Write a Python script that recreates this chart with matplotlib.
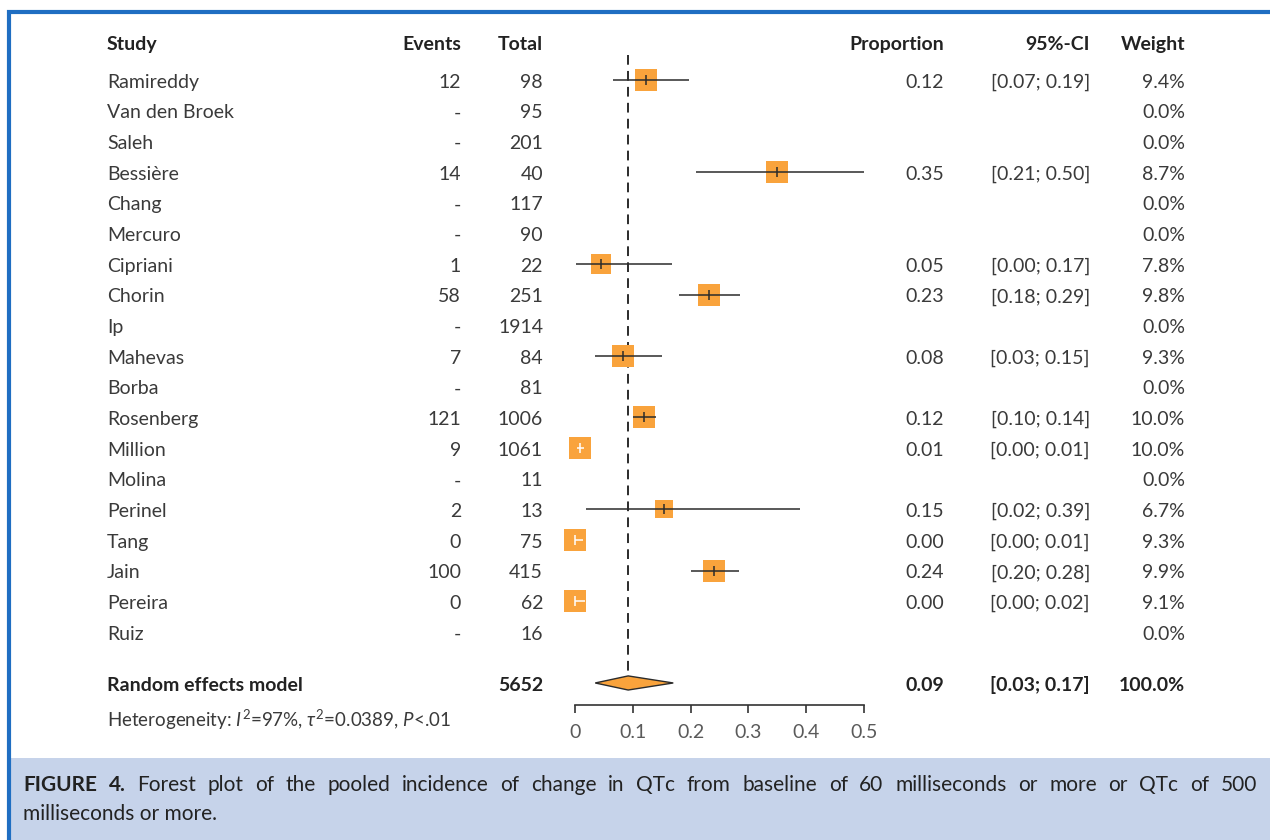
import matplotlib
matplotlib.use("agg")
import matplotlib.pyplot as plt
from matplotlib.transforms import blended_transform_factory
from matplotlib.patches import Rectangle, Polygon

plt.rcParams['font.family'] = ['Lato', 'DejaVu Sans']
plt.rcParams['mathtext.fontset'] = 'custom'
plt.rcParams['mathtext.rm'] = 'Lato'
plt.rcParams['mathtext.it'] = 'Lato:italic'

# ---- data ----
studies = ["Ramireddy", "Van den Broek", "Saleh", "Bessière", "Chang", "Mercuro",
           "Cipriani", "Chorin", "Ip", "Mahevas", "Borba", "Rosenberg", "Million",
           "Molina", "Perinel", "Tang", "Jain", "Pereira", "Ruiz"]
events = ["12", "-", "-", "14", "-", "-", "1", "58", "-", "7", "-", "121", "9",
          "-", "2", "0", "100", "0", "-"]
totals = ["98", "95", "201", "40", "117", "90", "22", "251", "1914", "84", "81",
          "1006", "1061", "11", "13", "75", "415", "62", "16"]
prop = [0.122, None, None, 0.350, None, None, 0.045, 0.231, None, 0.083, None,
        0.120, 0.0085, None, 0.154, 0.0, 0.241, 0.0, None]
lower = [0.066, None, None, 0.210, None, None, 0.001, 0.180, None, 0.034, None,
         0.101, 0.004, None, 0.019, 0.0, 0.200, 0.0, None]
upper = [0.197, None, None, 0.500, None, None, 0.168, 0.285, None, 0.150, None,
         0.141, 0.016, None, 0.390, 0.014, 0.283, 0.017, None]
prop_txt = ["0.12", "", "", "0.35", "", "", "0.05", "0.23", "", "0.08", "", "0.12",
            "0.01", "", "0.15", "0.00", "0.24", "0.00", ""]
ci_txt = ["[0.07; 0.19]", "", "", "[0.21; 0.50]", "", "", "[0.00; 0.17]",
          "[0.18; 0.29]", "", "[0.03; 0.15]", "", "[0.10; 0.14]", "[0.00; 0.01]",
          "", "[0.02; 0.39]", "[0.00; 0.01]", "[0.20; 0.28]", "[0.00; 0.02]", ""]
weights = [9.4, 0.0, 0.0, 8.7, 0.0, 0.0, 7.8, 9.8, 0.0, 9.3, 0.0, 10.0, 10.0,
           0.0, 6.7, 9.3, 9.9, 9.1, 0.0]

re_est, re_lo, re_hi = 0.092, 0.035, 0.170
re_txt = ["5652", "0.09", "[0.03; 0.17]", "100.0%"]
xticks = [0, 0.1, 0.2, 0.3, 0.4, 0.5]

W, H = 1270, 840
fig = plt.figure(figsize=(W / 100, H / 100), dpi=100)
fig.patch.set_facecolor("white")

# full-figure pixel axes for frame / caption
tax = fig.add_axes([0, 0, 1, 1])
tax.set_xlim(0, W)
tax.set_ylim(H, 0)
tax.axis("off")

# forest panel
x0_px, x1_px = 575, 864
top_px, bot_px = 30, 705
row0_px, row_step = 80, 30.67
ax = fig.add_axes([x0_px / W, 1 - bot_px / H, (x1_px - x0_px) / W, (bot_px - top_px) / H])
ax.set_xlim(0, 0.5)
ax.set_ylim((bot_px - row0_px) / row_step, (top_px - row0_px) / row_step)
ax.patch.set_alpha(0)
for s in ["top", "left", "right"]:
    ax.spines[s].set_visible(False)
ax.spines["bottom"].set_color("#333333")
ax.spines["bottom"].set_linewidth(1.2)
ax.set_yticks([])
ax.set_xticks(xticks)
ax.set_xticklabels(["0", "0.1", "0.2", "0.3", "0.4", "0.5"])
ax.tick_params(axis="x", direction="out", length=6, width=1.2, color="#333333",
               labelsize=14, labelcolor="#5a5a5a", pad=8)

px_per_unit = (x1_px - x0_px) / 0.5
header_row = -1.24
re_row = 19.66
het_row = 20.8
dy = 0.07  # text baseline nudge

orange = "#f9a33c"
dark = "#2b2b2b"

for i in range(len(studies)):
    if prop[i] is None:
        continue
    side = 7.27 * weights[i] ** 0.5  # pixels
    ax.plot([prop[i]], [i], marker="s", markersize=side * 0.72, color=orange,
            markeredgewidth=0, linestyle="none", clip_on=False, zorder=2)
    inside = (upper[i] - lower[i]) * px_per_unit < side
    c = "white" if inside else dark
    ax.plot([lower[i], upper[i]], [i, i], color=c, lw=1.1, clip_on=False, zorder=3,
            solid_capstyle="butt")
    ax.plot([prop[i]], [i], marker="|", markersize=7, markeredgewidth=1.1,
            color=c, linestyle="none", clip_on=False, zorder=4)

# pooled estimate
dh = 0.23
ax.add_patch(Polygon([(re_lo, re_row), (re_est, re_row - dh), (re_hi, re_row),
                      (re_est, re_row + dh)], closed=True, facecolor=orange,
                     edgecolor=dark, lw=1.0, clip_on=False, zorder=3))
ax.plot([re_est, re_est], [-0.82, re_row - dh], color=dark, lw=1.4,
        linestyle=(0, (5, 3.2)), clip_on=False, zorder=1)

# table text
tr = blended_transform_factory(tax.transData, ax.transData)
fs = 14
txtc = "#3a3a3a"
hdr = dict(fontsize=fs, fontweight="bold", color="#222222", va="center", transform=tr)
body = dict(fontsize=fs, color=txtc, va="center", transform=tr)

col_study, col_ev, col_tot, col_prop, col_ci, col_w = 107, 461, 543, 944, 1090, 1185
fig.text(col_study, header_row + dy, "Study", ha="left", **hdr)
fig.text(col_ev, header_row + dy, "Events", ha="right", **hdr)
fig.text(col_tot, header_row + dy, "Total", ha="right", **hdr)
fig.text(col_prop, header_row + dy, "Proportion", ha="right", **hdr)
fig.text(col_ci, header_row + dy, "95%-CI", ha="right", **hdr)
fig.text(col_w, header_row + dy, "Weight", ha="right", **hdr)

for i, name in enumerate(studies):
    y = i + dy
    fig.text(col_study, y, name, ha="left", **body)
    fig.text(col_ev, y, events[i], ha="right", **body)
    fig.text(col_tot, y, totals[i], ha="right", **body)
    fig.text(col_prop, y, prop_txt[i], ha="right", **body)
    fig.text(col_ci, y, ci_txt[i], ha="right", **body)
    fig.text(col_w, y, "%.1f%%" % weights[i], ha="right", **body)

fig.text(col_study, re_row + dy, "Random effects model", ha="left", **hdr)
for xc, s in zip([col_tot, col_prop, col_ci, col_w], re_txt):
    fig.text(xc, re_row + dy, s, ha="right", **hdr)
fig.text(col_study, het_row + dy,
         r"Heterogeneity: $\mathit{I}^2$=97%, $\tau^2$=0.0389, $\mathit{P}$<.01",
         ha="left", fontsize=13.5, color=txtc, va="center", transform=tr)

# frame and caption band
blue = "#1f6ec2"
tax.add_patch(Rectangle((11, 758), W - 11, H - 758, facecolor="#c6d3ea",
                        edgecolor="none", zorder=0))
tax.plot([9, 9, W], [H, 12, 12], color=blue, lw=3.0, solid_joinstyle="miter",
         zorder=5)

cap1 = ("FIGURE 4. Forest plot of the pooled incidence of change in QTc from "
        "baseline of 60 milliseconds or more or QTc of 500").split(" ")
cap2 = "milliseconds or more."
cap_fs = 15
cap_left, cap_right = 23, 1257
fig.canvas.draw()
renderer = fig.canvas.get_renderer()
objs = []
for k, wd in enumerate(cap1):
    bold = k < 2
    t = tax.text(0, 785, wd, fontsize=cap_fs, color="#222222", va="center", ha="left",
                 fontweight="bold" if bold else "normal")
    objs.append(t)
widths = [o.get_window_extent(renderer).width for o in objs]
gap = (cap_right - cap_left - sum(widths)) / (len(objs) - 1)
x = cap_left
for o, wdt in zip(objs, widths):
    o.set_x(x)
    x += wdt + gap
tax.text(cap_left, 814, cap2, fontsize=cap_fs, color="#222222",
         va="center", ha="left")

fig.savefig("out.png", dpi=100)
